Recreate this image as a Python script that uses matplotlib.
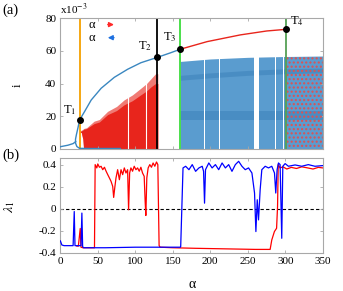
import matplotlib
matplotlib.use("Agg")
import matplotlib.pyplot as plt

plt.rcParams['font.family'] = ['Liberation Serif', 'DejaVu Serif']
plt.rcParams['mathtext.fontset'] = 'stix'

# ---------------- data: panel (a) ----------------
# upper solution branch (blue) from T1 to T3
branch_a = [25.6, 32.2, 41.1, 54.4, 72.0, 89.7, 107.4, 129.5, 147.2, 159.6]
branch_i = [17.7, 22.8, 29.9, 37.1, 43.8, 48.7, 52.7, 56.0, 58.8, 60.9]
# lower loop branch (blue)
loop_a = [25.6, 23.5, 21.5, 20.2, 20.3, 22.0, 25.6, 40.0, 80.0]
loop_i = [17.7, 13.0, 9.0, 6.0, 3.5, 1.5, 0.4, 0.3, 0.3]
start_a = [0.0, 10.0, 17.0, 20.4]
start_i = [1.4, 2.3, 3.3, 4.5]
# continuation branch (red) from T3 to T4
red_a = [159.6, 195.8, 240.0, 275.3, 301.0]
red_i = [60.9, 65.6, 69.7, 72.1, 73.1]
# transition points
T_names = ['T$_1$', 'T$_2$', 'T$_3$', 'T$_4$']
T_a = [25.6, 129.5, 159.6, 301.0]
T_i = [17.7, 56.0, 60.9, 73.1]
T_colors = ['#f5a000', 'black', '#3ddc3d', '#55a055']
# chaotic cloud (forward, red)
cloudr_a = [26, 28, 30, 31, 35, 45, 52, 63, 75, 85, 96, 107, 115, 121, 127, 130]
cloudr_hi = [11, 11.5, 12, 12.5, 13, 17, 18, 23, 26, 30, 33, 37, 40, 43, 46, 46]
cloudr_core = [10.5, 11, 11.5, 12, 12.5, 15.5, 16.5, 21, 23.5, 27, 29.5, 33, 35.5, 38, 40, 40]
cloudr_lo = [10.5, 10, 6, 0, 0, 0, 0, 0, 0, 0, 0, 0, 0, 0, 0, 0]
cloudr_gaps = [89.7, 114.0]
# chaotic cloud (backward, blue)
cloudb_a = [160, 200, 250, 300, 350]
cloudb_hi = [53.5, 55.0, 56.0, 56.5, 56.8]
band1_lo = [17.5, 17.5, 17.5, 17.5, 17.5]
band1_hi = [23.5, 23.5, 23.5, 23.5, 23.5]
band2_lo = [42.0, 43.5, 45.0, 46.0, 46.5]
band2_hi = [45.0, 46.5, 48.0, 49.0, 49.5]
cloudb_gaps = [(191.0, 192.5), (211.5, 213.0), (258.0, 264.5), (286.0, 287.5), (297.0, 298.5)]
mixed_a = [302, 350]
mixed_hi = [56.5, 56.8]

# ---------------- data: panel (b) ----------------
lam_red_a = [22, 24, 26.5, 27.5, 30, 40, 45.5, 46.4, 48.6, 49.9, 52.1, 54.3, 56.5,
             58.8, 61, 63.2, 65.4, 67.6, 69.8, 71.1, 72.5, 74.2, 76.4, 78.7, 80.9,
             83.1, 85.3, 87.5, 89.7, 91, 92.4, 94.1, 96.3, 98.5, 100.8, 103, 105.2,
             107.4, 109.6, 111.8, 113.1, 114, 115.3, 117.1, 119.3, 121.5, 123.7, 126,
             128.2, 130, 131.7, 133, 150, 180, 220, 260, 279.8, 282, 285.5, 288.4,
             289.7, 290.6, 293, 297, 302, 308, 315, 322, 330, 337, 344, 350]
lam_red = [-0.34, -0.34, -0.18, -0.35, -0.355, -0.355, -0.355, 0.40, 0.37, 0.406,
           0.376, 0.385, 0.354, 0.376, 0.34, 0.309, 0.279, 0.248, 0.203, 0.102, 0.187,
           0.279, 0.354, 0.263, 0.354, 0.309, 0.37, 0.324, 0.354, -0.01, 0.324, 0.37,
           0.34, 0.385, 0.354, 0.37, 0.34, 0.376, 0.324, 0.294, 0.065, -0.062, 0.279,
           0.37, 0.40, 0.376, 0.415, 0.385, 0.424, 0.40, -0.335, -0.35, -0.355, -0.36,
           -0.365, -0.37, -0.37, -0.284, -0.208, -0.178, 0.02, 0.40, 0.37, 0.38, 0.36,
           0.375, 0.365, 0.38, 0.37, 0.36, 0.375, 0.37]
lam_blue_a = [0, 2, 5, 17, 18.5, 19.5, 27.5, 28.7, 29.7, 31, 60, 100, 140, 160,
              160.5, 163.6, 167.1, 171.5, 175.9, 180.4, 184.8, 189.2, 191, 192.3,
              193.6, 198, 202.4, 206.8, 211.2, 215.7, 220.1, 224.5, 228.9, 233.4,
              237.8, 242.2, 246.6, 251, 255.5, 259, 260.8, 262.6, 264.3, 266.5, 268.7,
              273.2, 277.6, 282, 285.6, 287.3, 289.1, 290.9, 293.1, 295.3, 296.7,
              299.8, 304.2, 313.1, 321.9, 330.7, 339.6, 350]
lam_blue = [-0.293, -0.33, -0.336, -0.336, -0.026, -0.336, -0.336, -0.04, -0.345,
            -0.355, -0.355, -0.35, -0.35, -0.35, -0.345, 0.37, 0.385, 0.354, 0.40,
            0.339, 0.37, 0.385, 0.339, 0.05, 0.354, 0.415, 0.37, 0.40, 0.354, 0.415,
            0.37, 0.40, 0.339, 0.40, 0.43, 0.385, 0.354, 0.37, 0.324, 0.142, -0.208,
            0.081, -0.102, 0.172, 0.354, 0.385, 0.37, 0.385, 0.324, 0.142, 0.354,
            0.415, 0.40, -0.269, 0.385, 0.409, 0.385, 0.397, 0.385, 0.40, 0.385, 0.391]

xticks = [0, 50, 100, 150, 200, 250, 300, 350]
yticks_a = [0, 20, 40, 60, 80]
yticks_b = [-0.4, -0.2, 0, 0.2, 0.4]

# ---------------- figure ----------------
fig = plt.figure(figsize=(3.43, 2.91), dpi=100)
axa = fig.add_axes([0.176, 0.488, 0.765, 0.450])
axb = fig.add_axes([0.176, 0.1316, 0.765, 0.3254])

RED = '#e8251c'
BLUE_C = '#3a87c0'
CLOUD_B = '#5a9ccf'
BAND_B = '#2c72ad'

# clouds
axa.fill_between(cloudr_a, cloudr_lo, cloudr_hi, color='#f07a74', lw=0, zorder=1)
axa.fill_between(cloudr_a, cloudr_lo, cloudr_core, color=RED, lw=0, zorder=1.1)
axa.vlines(cloudr_gaps, 0, 46, color='white', lw=0.8, zorder=1.5)
axa.fill_between(cloudb_a, 0, cloudb_hi, color=CLOUD_B, lw=0, zorder=1)
axa.fill_between(cloudb_a, band1_lo, band1_hi, color=BAND_B, lw=0, alpha=0.35, zorder=1.2)
axa.fill_between(cloudb_a, band2_lo, band2_hi, color=BAND_B, lw=0, alpha=0.35, zorder=1.2)
for g0, g1 in cloudb_gaps:
    axa.axvspan(g0, g1, ymin=0, ymax=57 / 80, color='white', lw=0, zorder=1.5)
axa.fill_between(mixed_a, 0, mixed_hi, facecolor='none', edgecolor='#e05050',
                 hatch='....', lw=0, zorder=1.6)

# vertical transition lines
for a, c in zip(T_a, T_colors):
    axa.axvline(a, color=c, lw=1.3, zorder=2)

# branches
axa.plot(branch_a, branch_i, color=BLUE_C, lw=1.0, zorder=3)
axa.plot(loop_a, loop_i, color=BLUE_C, lw=1.0, zorder=3)
axa.plot(start_a, start_i, color=BLUE_C, lw=1.0, zorder=3)
axa.plot(red_a, red_i, color=RED, lw=1.0, zorder=3)
axa.plot(T_a, T_i, 'o', color='black', ms=4, zorder=4)

offs = [(-12, 2), (-14, 3), (-12, 4), (3, 1)]
for n, a, i, (dx, dy) in zip(T_names, T_a, T_i, offs):
    axa.annotate(n, (a, i), xytext=(dx, dy), textcoords='offset points',
                 fontsize=9, ha='left', va='bottom')

# legend with arrows
axa.text(0.119, 0.95, 'α', transform=axa.transAxes, fontsize=9, ha='center', va='center')
axa.text(0.119, 0.85, 'α', transform=axa.transAxes, fontsize=9, ha='center', va='center')
axa.annotate('', xy=(0.215, 0.95), xytext=(0.17, 0.95), xycoords='axes fraction',
             arrowprops=dict(arrowstyle='-|>', color='#ff2a2a', lw=1.0, mutation_scale=7))
axa.annotate('', xy=(0.17, 0.85), xytext=(0.215, 0.85), xycoords='axes fraction',
             arrowprops=dict(arrowstyle='-|>', color='#1e70e0', lw=1.0, mutation_scale=7))
axa.text(0.0, 1.01, r'x10$^{-3}$', transform=axa.transAxes, fontsize=8,
         ha='left', va='bottom')

axa.set_xlim(0, 350)
axa.set_ylim(0, 80)
axa.set_xticks(xticks)
axa.set_xticklabels([])
axa.set_yticks(yticks_a)

# panel (b)
axb.axhline(0, color='black', lw=0.8, ls=(0, (3, 2)), zorder=1)
axb.plot(lam_red_a, lam_red, color='#ff0000', lw=0.9, zorder=2)
axb.plot(lam_blue_a, lam_blue, color='#0000ff', lw=0.9, zorder=3)
axb.set_xlim(0, 350)
axb.set_ylim(-0.4, 0.46)
axb.set_xticks(xticks)
axb.set_yticks(yticks_b)
axb.set_yticklabels(['-0.4', '-0.2', '0', '0.2', '0.4'])

for ax in (axa, axb):
    for s in ax.spines.values():
        s.set_color('#a8a8a8')
        s.set_linewidth(0.8)
    ax.tick_params(direction='in', length=2.5, width=0.6, color='#a8a8a8',
                   top=True, right=True, labelsize=8, pad=3)

fig.text(18 / 343, 1 - 85 / 291, 'i', fontsize=9, ha='center', va='center', rotation=90)
fig.text(10 / 343, 1 - 207 / 291, r'$\lambda_1$', fontsize=10, ha='center',
         va='center', rotation=90)
fig.text(191.7 / 343, 1 - 284 / 291, 'α', fontsize=10, ha='center', va='center')
fig.text(2 / 343, 1 - 10 / 291, '(a)', fontsize=10.5, ha='left', va='center')
fig.text(2 / 343, 1 - 155 / 291, '(b)', fontsize=10.5, ha='left', va='center')

fig.savefig('out.png', dpi=100)
